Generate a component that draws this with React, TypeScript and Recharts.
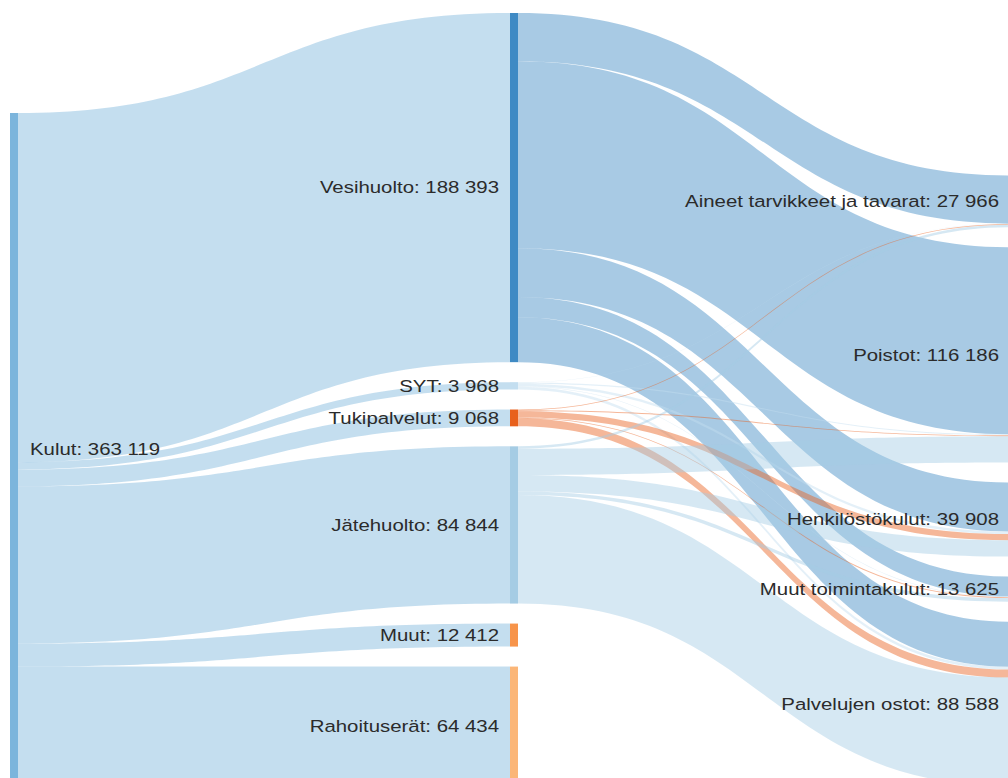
import React from 'react';
import { Sankey } from 'recharts';

// nodes, in column order
const ROOT = 'Kulut';
const UNITS = ['Vesihuolto', 'SYT', 'Tukipalvelut', 'Jätehuolto', 'Muut', 'Rahoituserät'];
const UNIT_VALUES = [188393, 3968, 9068, 84844, 12412, 64434];
const COST_TYPES = ['Aineet tarvikkeet ja tavarat', 'Poistot', 'Henkilöstökulut', 'Muut toimintakulut', 'Palvelujen ostot'];

// flows from each unit into the cost types (same order as COST_TYPES)
const VESI_FLOWS = [26016, 100877, 26400, 10800, 24300];
const SYT_FLOWS = [200, 600, 1400, 300, 1468];
const TUKI_FLOWS = [450, 500, 3300, 520, 4298];
const JATE_FLOWS = [1300, 14209, 8808, 2005, 58522];

const COLORS: Record<string, string> = {
  Kulut: '#7cb5dc',
  Vesihuolto: '#3f8ac4',
  SYT: '#c3def0',
  Tukipalvelut: '#e8601c',
  'Jätehuolto': '#a5cce4',
  Muut: '#f7944a',
  'Rahoituserät': '#fbb678',
  'Aineet tarvikkeet ja tavarat': '#3f8ac4',
  Poistot: '#3f8ac4',
  'Henkilöstökulut': '#3f8ac4',
  'Muut toimintakulut': '#3f8ac4',
  'Palvelujen ostot': '#3f8ac4',
};

const nodes = [ROOT, ...UNITS, ...COST_TYPES].map((name) => ({ name }));

const links: { source: number; target: number; value: number }[] = [];
UNIT_VALUES.forEach((v, i) => links.push({ source: 0, target: 1 + i, value: v }));
[VESI_FLOWS, SYT_FLOWS, TUKI_FLOWS, JATE_FLOWS].forEach((flows, i) => {
  flows.forEach((v, j) => links.push({ source: 1 + i, target: 1 + UNITS.length + j, value: v }));
});

const fmt = (v: number) => Math.round(v).toString().replace(/\B(?=(\d{3})+(?!\d))/g, ' ');

const SankeyNode = (props: any) => {
  const { x, y, width, height, payload } = props;
  const color = COLORS[payload.name] || '#999';
  const left = payload.depth === 0;
  const tx = left ? x + width + 12 : x - 11;
  return (
    <g>
      <rect x={x} y={y} width={width} height={height} fill={color} />
      <text
        transform={`translate(${tx},${y + height / 2}) scale(1.2,1)`}
        textAnchor={left ? 'start' : 'end'}
        dominantBaseline="central"
        fontFamily="'Liberation Sans', Arial, sans-serif"
        fontSize={17}
        fill="#2b2b2b"
      >
        {`${payload.name}: ${fmt(payload.value)}`}
      </text>
    </g>
  );
};

const SankeyLink = (props: any) => {
  const { sourceX, targetX, sourceY, targetY, sourceControlX, targetControlX, linkWidth, payload } = props;
  const h = linkWidth / 2;
  const color = COLORS[payload.source.name] || '#999';
  const d =
    `M${sourceX},${sourceY - h}` +
    `C${sourceControlX},${sourceY - h} ${targetControlX},${targetY - h} ${targetX},${targetY - h}` +
    `L${targetX},${targetY + h}` +
    `C${targetControlX},${targetY + h} ${sourceControlX},${sourceY + h} ${sourceX},${sourceY + h}Z`;
  return <path d={d} fill={color} fillOpacity={0.45} stroke="none" />;
};

export default function App() {
  return (
    <div style={{ position: 'fixed', left: 0, top: 0, width: 1008, height: 778, overflow: 'hidden', background: '#fff' }}>
      <Sankey
        width={1018}
        height={786}
        data={{ nodes, links }}
        node={SankeyNode}
        link={SankeyLink}
        nodeWidth={8}
        nodePadding={20}
        margin={{ top: 13, right: 0, bottom: 0, left: 10 }}
        sort={false}
        align="left"
        iterations={32}
      />
    </div>
  );
}
